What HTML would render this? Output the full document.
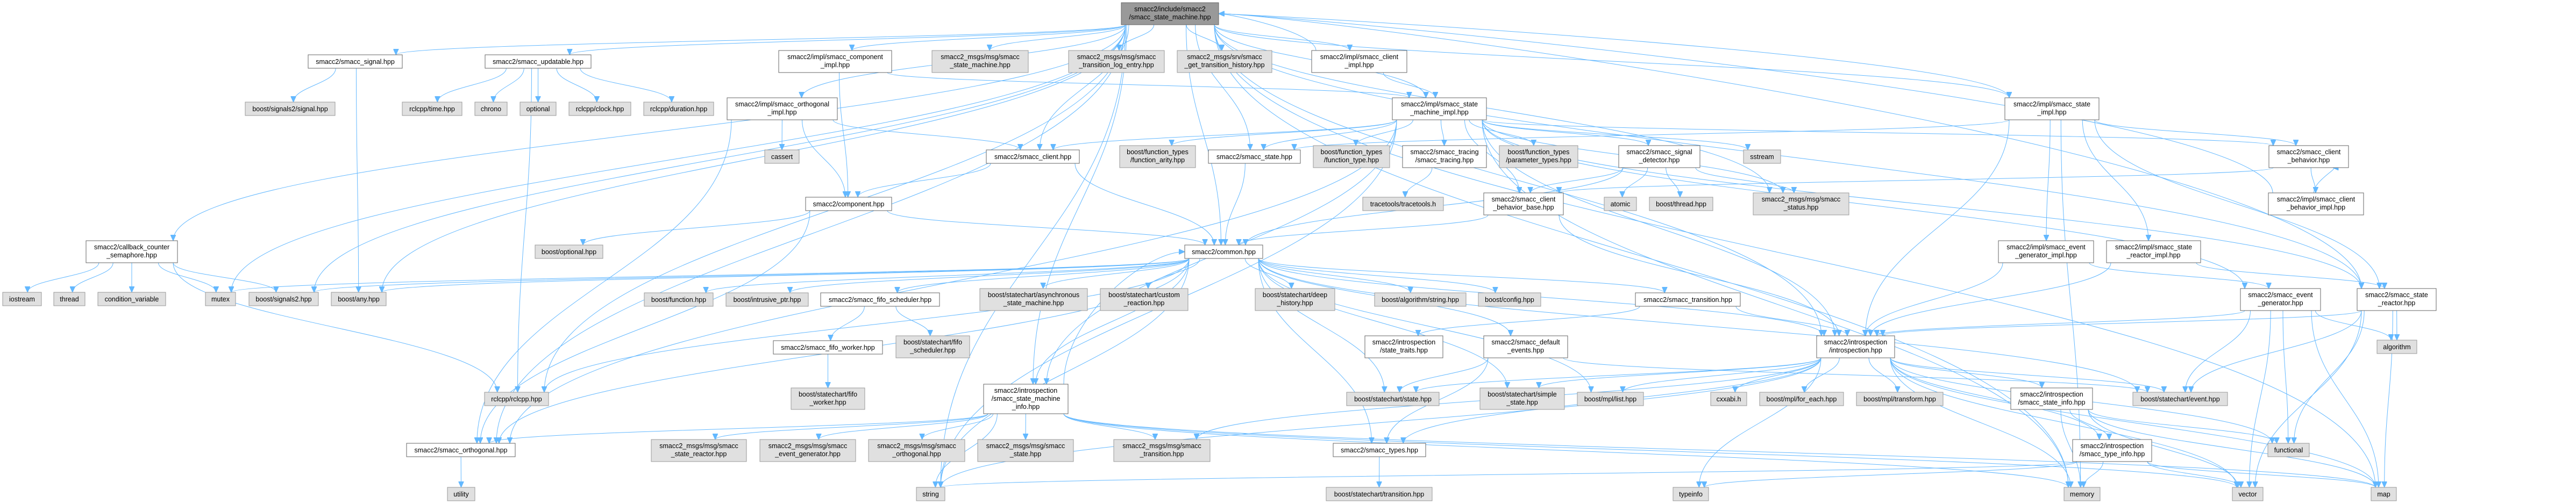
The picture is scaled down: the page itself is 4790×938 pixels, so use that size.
<!DOCTYPE html>
<html><head><meta charset="utf-8"><style>
html,body{margin:0;padding:0;background:#fff;width:4790px;height:938px;overflow:hidden}
svg{display:block}
text{font-family:"Liberation Sans",Arial,sans-serif;font-size:12.5px;fill:#000;text-anchor:middle}
.W rect{fill:#fff;stroke:#666;stroke-width:1}
.G rect{fill:#e0e0e0;stroke:#999;stroke-width:1}
.M rect{fill:#999;stroke:#666;stroke-width:1}
#edges path{fill:none;stroke:#63b8ff;stroke-width:1}
</style></head><body>
<svg id="s" width="4790" height="938" viewBox="0 0 4790 938" xmlns="http://www.w3.org/2000/svg">
<defs><marker id="ah" markerUnits="userSpaceOnUse" markerWidth="12" markerHeight="10" refX="11" refY="5" orient="auto"><path d="M0,0 L11,5 L0,10 z" fill="#63b8ff" stroke="#63b8ff"/></marker></defs>
<g id="edges"></g>
<g id="nodes">
<g id="sig" class="W"><rect x="573" y="102" width="175" height="25"/><text x="660.5" y="119">smacc2/smacc_signal.hpp</text></g>
<g id="bsig" class="G"><rect x="456" y="190" width="167" height="25"/><text x="539.5" y="207">boost/signals2/signal.hpp</text></g>
<g id="time" class="G"><rect x="748" y="190" width="111" height="25"/><text x="803.5" y="207">rclcpp/time.hpp</text></g>
<g id="cb" class="W"><rect x="160" y="448" width="170" height="41"/><text x="245" y="464">smacc2/callback_counter</text><text x="245" y="479">_semaphore.hpp</text></g>
<g id="ios" class="G"><rect x="5" y="544" width="72" height="25"/><text x="41" y="561">iostream</text></g>
<g id="thr" class="G"><rect x="100" y="544" width="58" height="25"/><text x="129" y="561">thread</text></g>
<g id="cv" class="G"><rect x="182" y="544" width="126" height="25"/><text x="245" y="561">condition_variable</text></g>
<g id="mtx" class="G"><rect x="382" y="544" width="56" height="25"/><text x="410" y="561">mutex</text></g>
<g id="s2" class="G"><rect x="463" y="544" width="129" height="25"/><text x="527.5" y="561">boost/signals2.hpp</text></g>
<g id="any" class="G"><rect x="616" y="544" width="102" height="25"/><text x="667" y="561">boost/any.hpp</text></g>
<g id="orth" class="W"><rect x="756" y="825" width="202" height="25"/><text x="857" y="842">smacc2/smacc_orthogonal.hpp</text></g>
<g id="upd" class="W"><rect x="902" y="102" width="197" height="25"/><text x="1000.5" y="119">smacc2/smacc_updatable.hpp</text></g>
<g id="chr" class="G"><rect x="883" y="190" width="60" height="25"/><text x="913" y="207">chrono</text></g>
<g id="opt" class="G"><rect x="967" y="190" width="67" height="25"/><text x="1000.5" y="207">optional</text></g>
<g id="clk" class="G"><rect x="1058" y="190" width="115" height="25"/><text x="1115.5" y="207">rclcpp/clock.hpp</text></g>
<g id="dur" class="G"><rect x="1197" y="190" width="130" height="25"/><text x="1262" y="207">rclcpp/duration.hpp</text></g>
<g id="compi" class="W"><rect x="1448" y="94" width="210" height="41"/><text x="1553" y="110">smacc2/impl/smacc_component</text><text x="1553" y="125">_impl.hpp</text></g>
<g id="orthi" class="W"><rect x="1352" y="182" width="205" height="41"/><text x="1454.5" y="198">smacc2/impl/smacc_orthogonal</text><text x="1454.5" y="213">_impl.hpp</text></g>
<g id="cas" class="G"><rect x="1422" y="279" width="64" height="25"/><text x="1454" y="296">cassert</text></g>
<g id="comp" class="W"><rect x="1498" y="367" width="160" height="25"/><text x="1578" y="384">smacc2/component.hpp</text></g>
<g id="bopt" class="G"><rect x="995" y="456" width="126" height="25"/><text x="1058" y="473">boost/optional.hpp</text></g>
<g id="bfn" class="G"><rect x="1198" y="545" width="128" height="25"/><text x="1262" y="562">boost/function.hpp</text></g>
<g id="bip" class="G"><rect x="1350" y="545" width="153" height="25"/><text x="1426.5" y="562">boost/intrusive_ptr.hpp</text></g>
<g id="fsch" class="W"><rect x="1526" y="545" width="221" height="25"/><text x="1636.5" y="562">smacc2/smacc_fifo_scheduler.hpp</text></g>
<g id="fwk" class="W"><rect x="1438" y="634" width="203" height="25"/><text x="1539.5" y="651">smacc2/smacc_fifo_worker.hpp</text></g>
<g id="bfw" class="G"><rect x="1471" y="722" width="137" height="40"/><text x="1539.5" y="738">boost/statechart/fifo</text><text x="1539.5" y="753">_worker.hpp</text></g>
<g id="rcl" class="G"><rect x="901" y="730" width="119" height="25"/><text x="960.5" y="747">rclcpp/rclcpp.hpp</text></g>
<g id="msr" class="G"><rect x="1211" y="818" width="177" height="41"/><text x="1299.5" y="834">smacc2_msgs/msg/smacc</text><text x="1299.5" y="849">_state_reactor.hpp</text></g>
<g id="meg" class="G"><rect x="1413" y="818" width="178" height="41"/><text x="1502" y="834">smacc2_msgs/msg/smacc</text><text x="1502" y="849">_event_generator.hpp</text></g>
<g id="utl" class="G"><rect x="832" y="907" width="51" height="25"/><text x="857.5" y="924">utility</text></g>
<g id="main" class="M"><rect x="2085" y="5" width="181" height="41"/><text x="2175.5" y="21">smacc2/include/smacc2</text><text x="2175.5" y="36">/smacc_state_machine.hpp</text></g>
<g id="msm" class="G"><rect x="1733" y="94" width="179" height="41"/><text x="1822.5" y="110">smacc2_msgs/msg/smacc</text><text x="1822.5" y="125">_state_machine.hpp</text></g>
<g id="mtl" class="G"><rect x="1987" y="94" width="178" height="41"/><text x="2076" y="110">smacc2_msgs/msg/smacc</text><text x="2076" y="125">_transition_log_entry.hpp</text></g>
<g id="mgt" class="G"><rect x="2189" y="94" width="176" height="41"/><text x="2277" y="110">smacc2_msgs/srv/smacc</text><text x="2277" y="125">_get_transition_history.hpp</text></g>
<g id="cli" class="W"><rect x="1834" y="279" width="173" height="25"/><text x="1920.5" y="296">smacc2/smacc_client.hpp</text></g>
<g id="far" class="G"><rect x="2082" y="271" width="141" height="41"/><text x="2152.5" y="287">boost/function_types</text><text x="2152.5" y="302">/function_arity.hpp</text></g>
<g id="sst" class="W"><rect x="2247" y="279" width="171" height="25"/><text x="2332.5" y="296">smacc2/smacc_state.hpp</text></g>
<g id="com" class="W"><rect x="2203" y="456" width="145" height="25"/><text x="2275.5" y="473">smacc2/common.hpp</text></g>
<g id="asm" class="G"><rect x="1822" y="537" width="200" height="41"/><text x="1922" y="553">boost/statechart/asynchronous</text><text x="1922" y="568">_state_machine.hpp</text></g>
<g id="cre" class="G"><rect x="2046" y="537" width="163" height="41"/><text x="2127.5" y="553">boost/statechart/custom</text><text x="2127.5" y="568">_reaction.hpp</text></g>
<g id="dh" class="G"><rect x="2334" y="537" width="148" height="41"/><text x="2408" y="553">boost/statechart/deep</text><text x="2408" y="568">_history.hpp</text></g>
<g id="bfs" class="G"><rect x="1666" y="625" width="137" height="41"/><text x="1734.5" y="641">boost/statechart/fifo</text><text x="1734.5" y="656">_scheduler.hpp</text></g>
<g id="smi" class="W"><rect x="1829" y="715" width="157" height="55"/><text x="1907.5" y="731">smacc2/introspection</text><text x="1907.5" y="746">/smacc_state_machine</text><text x="1907.5" y="761">_info.hpp</text></g>
<g id="mor" class="G"><rect x="1615" y="818" width="179" height="41"/><text x="1704.5" y="834">smacc2_msgs/msg/smacc</text><text x="1704.5" y="849">_orthogonal.hpp</text></g>
<g id="mst" class="G"><rect x="1818" y="818" width="178" height="41"/><text x="1907" y="834">smacc2_msgs/msg/smacc</text><text x="1907" y="849">_state.hpp</text></g>
<g id="mtr" class="G"><rect x="2071" y="818" width="179" height="41"/><text x="2160.5" y="834">smacc2_msgs/msg/smacc</text><text x="2160.5" y="849">_transition.hpp</text></g>
<g id="str" class="G"><rect x="1704" y="907" width="53" height="25"/><text x="1730.5" y="924">string</text></g>
<g id="clii" class="W"><rect x="2439" y="94" width="177" height="41"/><text x="2527.5" y="110">smacc2/impl/smacc_client</text><text x="2527.5" y="125">_impl.hpp</text></g>
<g id="smim" class="W"><rect x="2589" y="182" width="175" height="41"/><text x="2676.5" y="198">smacc2/impl/smacc_state</text><text x="2676.5" y="213">_machine_impl.hpp</text></g>
<g id="fty" class="G"><rect x="2442" y="271" width="142" height="41"/><text x="2513" y="287">boost/function_types</text><text x="2513" y="302">/function_type.hpp</text></g>
<g id="trc" class="W"><rect x="2608" y="271" width="156" height="41"/><text x="2686" y="287">smacc2/smacc_tracing</text><text x="2686" y="302">/smacc_tracing.hpp</text></g>
<g id="par" class="G"><rect x="2788" y="271" width="146" height="41"/><text x="2861" y="287">boost/function_types</text><text x="2861" y="302">/parameter_types.hpp</text></g>
<g id="sdt" class="W"><rect x="3010" y="271" width="151" height="41"/><text x="3085.5" y="287">smacc2/smacc_signal</text><text x="3085.5" y="302">_detector.hpp</text></g>
<g id="ttl" class="G"><rect x="2534" y="367" width="150" height="25"/><text x="2609" y="384">tracetools/tracetools.h</text></g>
<g id="cbb" class="W"><rect x="2759" y="359" width="148" height="41"/><text x="2833" y="375">smacc2/smacc_client</text><text x="2833" y="390">_behavior_base.hpp</text></g>
<g id="atm" class="G"><rect x="2983" y="367" width="60" height="25"/><text x="3013" y="384">atomic</text></g>
<g id="bth" class="G"><rect x="3067" y="367" width="118" height="25"/><text x="3126" y="384">boost/thread.hpp</text></g>
<g id="bas" class="G"><rect x="2556" y="545" width="170" height="25"/><text x="2641" y="562">boost/algorithm/string.hpp</text></g>
<g id="bcf" class="G"><rect x="2749" y="545" width="116" height="25"/><text x="2807" y="562">boost/config.hpp</text></g>
<g id="trn" class="W"><rect x="3041" y="545" width="195" height="25"/><text x="3138.5" y="562">smacc2/smacc_transition.hpp</text></g>
<g id="stt" class="W"><rect x="2538" y="625" width="145" height="41"/><text x="2610.5" y="641">smacc2/introspection</text><text x="2610.5" y="656">/state_traits.hpp</text></g>
<g id="dev" class="W"><rect x="2759" y="625" width="156" height="41"/><text x="2837" y="641">smacc2/smacc_default</text><text x="2837" y="656">_events.hpp</text></g>
<g id="bst" class="G"><rect x="2504" y="730" width="172" height="25"/><text x="2590" y="747">boost/statechart/state.hpp</text></g>
<g id="bss" class="G"><rect x="2752" y="722" width="157" height="40"/><text x="2830.5" y="738">boost/statechart/simple</text><text x="2830.5" y="753">_state.hpp</text></g>
<g id="mls" class="G"><rect x="2933" y="730" width="123" height="25"/><text x="2994.5" y="747">boost/mpl/list.hpp</text></g>
<g id="cxa" class="G"><rect x="3181" y="730" width="67" height="25"/><text x="3214.5" y="747">cxxabi.h</text></g>
<g id="typ" class="W"><rect x="2479" y="825" width="172" height="25"/><text x="2565" y="842">smacc2/smacc_types.hpp</text></g>
<g id="btr" class="G"><rect x="2466" y="907" width="197" height="25"/><text x="2564.5" y="924">boost/statechart/transition.hpp</text></g>
<g id="tin" class="G"><rect x="3111" y="907" width="66" height="25"/><text x="3144" y="924">typeinfo</text></g>
<g id="stim" class="W"><rect x="3728" y="182" width="175" height="41"/><text x="3815.5" y="198">smacc2/impl/smacc_state</text><text x="3815.5" y="213">_impl.hpp</text></g>
<g id="sss" class="G"><rect x="3242" y="279" width="69" height="25"/><text x="3276.5" y="296">sstream</text></g>
<g id="sts" class="G"><rect x="3260" y="359" width="178" height="41"/><text x="3349" y="375">smacc2_msgs/msg/smacc</text><text x="3349" y="390">_status.hpp</text></g>
<g id="egi" class="W"><rect x="3716" y="448" width="177" height="41"/><text x="3804.5" y="464">smacc2/impl/smacc_event</text><text x="3804.5" y="479">_generator_impl.hpp</text></g>
<g id="sri" class="W"><rect x="3917" y="448" width="175" height="41"/><text x="4004.5" y="464">smacc2/impl/smacc_state</text><text x="4004.5" y="479">_reactor_impl.hpp</text></g>
<g id="itr" class="W"><rect x="3378" y="625" width="145" height="41"/><text x="3450.5" y="641">smacc2/introspection</text><text x="3450.5" y="656">/introspection.hpp</text></g>
<g id="mfe" class="G"><rect x="3272" y="730" width="156" height="25"/><text x="3350" y="747">boost/mpl/for_each.hpp</text></g>
<g id="mtf" class="G"><rect x="3452" y="730" width="161" height="25"/><text x="3532.5" y="747">boost/mpl/transform.hpp</text></g>
<g id="sif" class="W"><rect x="3739" y="722" width="152" height="40"/><text x="3815" y="738">smacc2/introspection</text><text x="3815" y="753">/smacc_state_info.hpp</text></g>
<g id="bev" class="G"><rect x="3966" y="730" width="176" height="25"/><text x="4054" y="747">boost/statechart/event.hpp</text></g>
<g id="tif" class="W"><rect x="3854" y="818" width="147" height="41"/><text x="3927.5" y="834">smacc2/introspection</text><text x="3927.5" y="849">/smacc_type_info.hpp</text></g>
<g id="mem" class="G"><rect x="3838" y="907" width="67" height="25"/><text x="3871.5" y="924">memory</text></g>
<g id="cbh" class="W"><rect x="4219" y="271" width="148" height="41"/><text x="4293" y="287">smacc2/smacc_client</text><text x="4293" y="302">_behavior.hpp</text></g>
<g id="cbi" class="W"><rect x="4218" y="359" width="177" height="41"/><text x="4306.5" y="375">smacc2/impl/smacc_client</text><text x="4306.5" y="390">_behavior_impl.hpp</text></g>
<g id="evg" class="W"><rect x="4166" y="537" width="149" height="41"/><text x="4240.5" y="553">smacc2/smacc_event</text><text x="4240.5" y="568">_generator.hpp</text></g>
<g id="srx" class="W"><rect x="4383" y="537" width="147" height="41"/><text x="4456.5" y="553">smacc2/smacc_state</text><text x="4456.5" y="568">_reactor.hpp</text></g>
<g id="alg" class="G"><rect x="4420" y="633" width="74" height="25"/><text x="4457" y="650">algorithm</text></g>
<g id="fnc" class="G"><rect x="4217" y="825" width="77" height="25"/><text x="4255.5" y="842">functional</text></g>
<g id="vec" class="G"><rect x="4151" y="907" width="57" height="25"/><text x="4179.5" y="924">vector</text></g>
<g id="map" class="G"><rect x="4409" y="907" width="47" height="25"/><text x="4432.5" y="924">map</text></g>
</g>
</svg>
<script>
(function(){
var E={
main:"sig upd cb mtx any s2 compi orthi msm mtl mgt clii smim stim sst com itr srx map mem cli orth rcl str sts smi",
sig:"bsig any",upd:"time chr opt clk dur rcl",cb:"ios thr cv mtx s2 rcl",
compi:"comp smim",orthi:"cas cli orth comp",comp:"com bopt orth",cli:"com comp",
smim:"fty trc par sdt sss sts itr mem srx evg cbh far cli sst orth smi str cbb",
sst:"com",
com:"asm cre dh bas bcf trn dev bst bss mls itr typ smi fsch bfn bip rcl any s2 mtx bev str orth",
fsch:"fwk bfs",fwk:"bfw",smi:"mor mst mtr msr meg orth str com mem map vec",
trc:"ttl",sdt:"atm bth cbb sts com",cbb:"com itr",trn:"stt itr",dev:"bst typ bev",
itr:"cxa mfe mtf sif tif bev tin mls bst bss typ mtr fnc vec map mem str",
sif:"tif mem vec map fnc",tif:"mem vec map str tin",typ:"btr",
stim:"itr egi sri cbh srx mem sst main",egi:"itr evg",sri:"itr srx",
cbh:"cbi cbb",cbi:"cbh main",clii:"smim main",
evg:"bev fnc vec map alg itr",srx:"alg bev fnc vec map itr main",orth:"utl"};
function box(id){var r=document.querySelector('#'+id+' rect');var x=+r.getAttribute('x'),y=+r.getAttribute('y'),w=+r.getAttribute('width'),h=+r.getAttribute('height');return{x:x,y:y,w:w,h:h,cx:x+w/2,cy:y+h/2};}
var g=document.getElementById('edges'),ns='http://www.w3.org/2000/svg',out='';
for(var s in E){var a=box(s);E[s].split(' ').forEach(function(t){var b=box(t);var sx,sy,tx,ty,d;
 if(b.y>a.y+a.h+5){sx=Math.max(a.x+8,Math.min(a.x+a.w-8,a.cx+(b.cx-a.cx)*0.3));sy=a.y+a.h;
  tx=Math.max(b.x+8,Math.min(b.x+b.w-8,b.cx+(a.cx-b.cx)*0.05));ty=b.y;var dy=ty-sy;
  d='M'+sx+','+sy+' C'+sx+','+(sy+dy*0.45)+' '+tx+','+(ty-dy*0.45)+' '+tx+','+ty;}
 else if(b.y+b.h<a.y-5){sx=Math.max(a.x+8,Math.min(a.x+a.w-8,a.cx+(b.cx-a.cx)*0.3));sy=a.y;
  tx=b.x+b.w*(b.cx<a.cx?0.8:0.2);if(Math.abs(b.cx-a.cx)>300){tx=b.cx<a.cx?b.x+b.w:b.x;ty=b.cy;}else ty=b.y+b.h;var dy=sy-ty;
  d='M'+sx+','+sy+' C'+sx+','+(sy-dy*0.5)+' '+(tx+(b.cx<a.cx?dy*0.3:-dy*0.3))+','+ty+' '+tx+','+ty;}
 else{ if(b.cx>a.cx){sx=a.x+a.w;tx=b.x;}else{sx=a.x;tx=b.x+b.w;} sy=a.cy;ty=b.cy;
  d='M'+sx+','+sy+' C'+((sx+tx)/2)+','+sy+' '+((sx+tx)/2)+','+ty+' '+tx+','+ty;}
 out+='<path d="'+d+'" marker-end="url(#ah)"/>';});}
g.innerHTML=out;
})();
</script>
</body></html>
